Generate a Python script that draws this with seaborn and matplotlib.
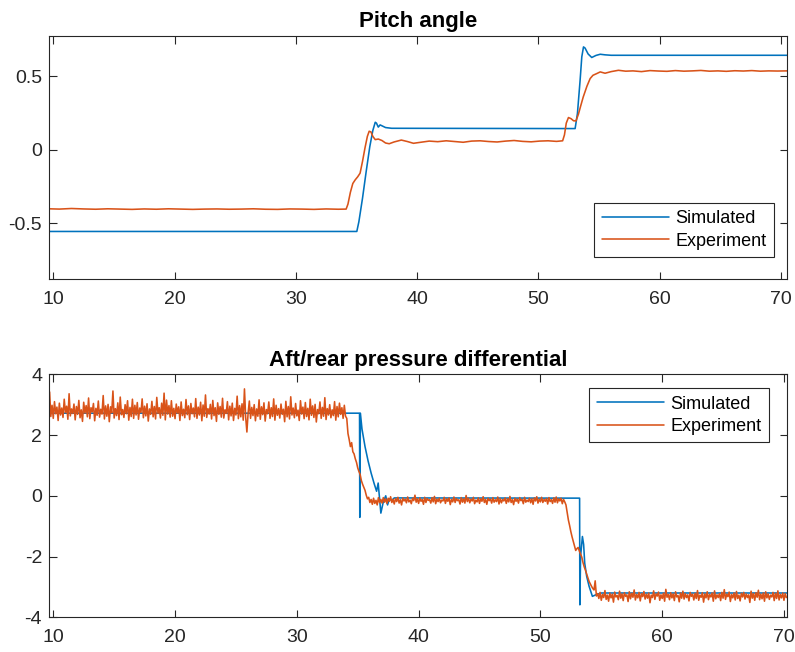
import numpy as np
import pandas as pd
import matplotlib
matplotlib.use("Agg")
import matplotlib.pyplot as plt
import seaborn as sns

# ---------------- pitch angle ----------------
pitch_sim_t = [9.65, 35.03, 35.2, 35.5, 35.8, 36.1, 36.35, 36.55, 36.65, 36.8, 36.95,
               37.1, 37.4, 37.9, 53.03, 53.22, 53.44, 53.58, 53.72, 53.85, 54.1, 54.4,
               54.75, 55.1, 55.5, 56.0, 70.5]
pitch_sim = [-0.556, -0.556, -0.49, -0.33, -0.15, 0.02, 0.13, 0.186, 0.18, 0.153, 0.168,
             0.162, 0.15, 0.145, 0.143, 0.245, 0.47, 0.63, 0.698, 0.69, 0.65, 0.626,
             0.64, 0.648, 0.644, 0.641, 0.641]

pitch_exp_t = [9.65, 10.5, 11.5, 12.5, 13.5, 14.5, 15.5, 16.5, 17.5, 18.5, 19.5, 20.5,
               21.5, 22.5, 23.5, 24.5, 25.5, 26.5, 27.5, 28.5, 29.5, 30.5, 31.5, 32.5,
               33.5, 34.15, 34.3, 34.5, 34.7, 34.9, 35.1, 35.3, 35.5, 35.7, 35.9, 36.05,
               36.2, 36.35, 36.55, 36.8, 37.1, 37.4, 37.7, 38.1, 38.7, 39.2, 39.7, 40.3,
               41.0, 41.7, 42.4, 43.1, 43.8, 44.5, 45.2, 45.9, 46.6, 47.3, 48.0, 48.7,
               49.4, 50.1, 50.8, 51.5, 52.0, 52.15, 52.3, 52.48, 52.7, 52.9, 53.1, 53.3,
               53.5, 53.7, 54.0, 54.27, 54.5, 54.82, 55.1, 55.5, 56.0, 56.6, 57.2, 57.8,
               58.5, 59.2, 59.9, 60.6, 61.3, 62.0, 62.7, 63.4, 64.1, 64.8, 65.5, 66.2,
               66.9, 67.6, 68.3, 69.0, 69.7, 70.5]
pitch_exp = [-0.402, -0.404, -0.400, -0.403, -0.405, -0.402, -0.404, -0.406, -0.403, -0.405,
             -0.402, -0.404, -0.406, -0.404, -0.403, -0.405, -0.404, -0.402, -0.405, -0.406,
             -0.403, -0.404, -0.406, -0.403, -0.405, -0.404, -0.37, -0.29, -0.23, -0.205,
             -0.185, -0.16, -0.08, 0.01, 0.09, 0.125, 0.12, 0.09, 0.068, 0.072, 0.062,
             0.045, 0.04, 0.052, 0.065, 0.055, 0.043, 0.05, 0.058, 0.054, 0.06, 0.055,
             0.05, 0.058, 0.06, 0.055, 0.052, 0.058, 0.062, 0.056, 0.053, 0.058, 0.06,
             0.056, 0.06, 0.1, 0.18, 0.218, 0.21, 0.196, 0.195, 0.24, 0.3, 0.358, 0.43,
             0.483, 0.505, 0.517, 0.528, 0.519, 0.53, 0.539, 0.533, 0.535, 0.53, 0.537,
             0.534, 0.532, 0.537, 0.533, 0.535, 0.538, 0.533, 0.535, 0.532, 0.536, 0.534,
             0.537, 0.533, 0.535, 0.534, 0.535]

# ---------------- aft/rear pressure differential ----------------
press_sim_t = [9.65, 35.15, 35.17, 35.22, 35.35, 35.6, 35.85, 36.1, 36.35, 36.55, 36.68,
               36.9, 37.1, 37.3, 37.45, 37.6, 37.8, 38.0, 53.22, 53.24, 53.3, 53.45,
               53.55, 53.64, 53.8, 54.0, 54.27, 54.6, 55.0, 70.25]
press_sim = [2.72, 2.72, -0.71, 2.72, 2.2, 1.62, 1.15, 0.75, 0.4, 0.15, 0.42,
             -0.57, -0.2, 0.0, -0.3, -0.1, -0.15, -0.07, -0.077, -3.59, -2.0, -1.34,
             -1.6, -2.22, -2.65, -2.98, -3.31, -3.25, -3.2, -3.2]

# experiment, sampled every 0.1 s starting at 9.7 s
press_exp_start = 9.7
press_exp_dt = 0.1
press_exp_high = [
    3.42, 2.61, 2.98, 2.55, 3.10, 2.70, 2.92, 2.48, 3.05, 2.66,
    2.89, 2.58, 3.18, 2.74, 2.95, 2.52, 3.36, 2.63, 2.86, 2.71,
    3.02, 2.50, 2.94, 2.68, 3.14, 2.57, 2.83, 2.45, 3.08, 2.72,
    2.97, 2.60, 3.22, 2.54, 2.90, 2.76, 3.04, 2.47, 2.88, 2.65,
    3.12, 2.59, 2.85, 2.69, 3.30, 2.53, 2.96, 2.62, 3.01, 2.44,
    2.93, 2.73, 3.45, 2.56, 2.87, 2.64, 3.06, 2.51, 3.25, 2.67,
    2.84, 2.58, 3.00, 2.70, 3.13, 2.49, 2.91, 2.61, 3.18, 2.55,
    2.98, 2.66, 3.07, 2.52, 2.89, 2.74, 3.19, 2.57, 2.95, 2.63,
    3.03, 2.46, 2.86, 2.68, 3.11, 2.60, 2.94, 2.53, 3.24, 2.71,
    2.90, 2.56, 3.05, 2.65, 3.38, 2.50, 3.15, 2.69, 2.97, 2.59,
    3.13, 2.62, 2.88, 2.54, 3.02, 2.72, 2.93, 2.48, 3.09, 2.64,
    2.85, 2.57, 3.17, 2.67, 2.96, 2.51, 3.04, 2.70, 2.89, 2.60,
    3.20, 2.55, 2.92, 2.66, 3.08, 2.47, 2.99, 2.62, 3.32, 2.58,
    2.87, 2.69, 3.01, 2.53, 3.14, 2.64, 2.90, 2.45, 3.06, 2.68,
    2.94, 2.59, 3.21, 2.56, 2.83, 2.71, 3.10, 2.50, 2.95, 2.63,
    3.05, 2.48, 2.88, 2.66, 3.28, 2.54, 2.97, 2.60, 3.03, 2.49,
    3.52, 2.58, 2.10, 2.73, 3.12, 2.55, 2.91, 2.64, 3.00, 2.47,
    2.86, 2.62, 3.16, 2.52, 2.93, 2.67, 3.06, 2.46, 2.84, 2.70,
    3.09, 2.55, 2.90, 2.61, 3.19, 2.49, 2.98, 2.65, 2.87, 2.56,
    3.02, 2.68, 2.85, 2.44, 3.11, 2.60, 2.94, 2.53, 3.26, 2.66,
    2.89, 2.57, 3.04, 2.63, 2.82, 2.48, 3.13, 2.69, 2.92, 2.54,
    3.07, 2.61, 2.88, 2.50, 3.18, 2.65, 2.96, 2.58, 3.01, 2.43,
    2.84, 2.70, 3.09, 2.55, 2.91, 2.62, 3.23, 2.51, 2.87, 2.66,
    3.00, 2.57, 2.83, 2.64, 3.10, 2.49, 2.94, 2.60, 3.05, 2.68,
    2.90, 2.55, 2.98, 2.62]
press_exp_drop1 = [
    2.55, 2.05, 1.85, 1.62, 1.75, 1.45, 1.38, 1.22, 1.10, 0.92,
    0.80, 0.70, 0.50, 0.38, 0.28, 0.18, 0.02, -0.10, -0.05, -0.22,
    -0.12, -0.28, -0.08, -0.25, -0.15, -0.30, -0.06, -0.22, -0.12, -0.24]
press_exp_mid = [
    -0.06, -0.21, -0.10, -0.25, -0.08, -0.18, -0.03, -0.22, -0.12, -0.27,
    -0.09, -0.19, -0.05, -0.24, -0.13, -0.30, -0.07, -0.17, -0.11, -0.23,
    -0.04, -0.20, -0.14, -0.26, -0.08, -0.16, 0.02, -0.21, -0.10, -0.25,
    -0.07, -0.18, -0.12, -0.28, -0.05, -0.22, -0.09, -0.15, -0.13, -0.24,
    -0.06, -0.20, -0.02, -0.26, -0.11, -0.19, -0.08, -0.23, -0.14, -0.17,
    -0.05, -0.25, -0.10, -0.18, -0.07, -0.29, -0.12, -0.20, -0.04, -0.22,
    -0.09, -0.16, -0.13, -0.27, -0.06, -0.21, -0.10, -0.24, 0.01, -0.19,
    -0.08, -0.23, -0.11, -0.17, -0.05, -0.26, -0.14, -0.20, -0.07, -0.25,
    -0.10, -0.18, -0.03, -0.22, -0.12, -0.28, -0.08, -0.16, -0.11, -0.24,
    -0.06, -0.21, -0.13, -0.19, -0.04, -0.27, -0.09, -0.23, -0.12, -0.17,
    -0.07, -0.25, -0.10, -0.20, -0.02, -0.22, -0.13, -0.29, -0.08, -0.18,
    -0.11, -0.24, -0.06, -0.16, -0.12, -0.26, -0.05, -0.21, -0.14, -0.19,
    -0.08, -0.23, -0.10, -0.28, -0.07, -0.17, -0.03, -0.24, -0.11, -0.20,
    -0.05, -0.22, -0.12, -0.18, -0.09, -0.27, -0.06, -0.19, -0.13, -0.25,
    -0.07, -0.21, -0.04, -0.23, -0.10, -0.17, -0.08, -0.26, -0.12, -0.20]
press_exp_drop2 = [
    -0.30, -0.55, -0.80, -0.98, -1.18, -1.35, -1.50, -1.66, -1.80, -1.74,
    -1.70, -1.82, -1.92, -2.02, -2.20, -2.34, -2.45, -2.58, -2.70, -2.82,
    -2.90, -2.98, -3.05, -3.10, -2.80, -3.30]
press_exp_low = [
    -3.22, -3.38, -3.18, -3.44, -3.25, -3.35, -3.12, -3.41, -3.27, -3.47,
    -3.20, -3.36, -3.24, -3.50, -3.17, -3.33, -3.28, -3.42, -3.14, -3.37,
    -3.23, -3.45, -3.19, -3.31, -3.26, -3.48, -3.16, -3.39, -3.21, -3.34,
    -3.10, -3.43, -3.25, -3.36, -3.18, -3.46, -3.22, -3.32, -3.15, -3.40,
    -3.24, -3.37, -3.20, -3.52, -3.27, -3.35, -3.13, -3.41, -3.23, -3.30,
    -3.17, -3.44, -3.26, -3.38, -3.21, -3.47, -3.08, -3.34, -3.25, -3.42,
    -3.19, -3.36, -3.23, -3.45, -3.16, -3.33, -3.28, -3.49, -3.20, -3.37,
    -3.14, -3.40, -3.22, -3.35, -3.26, -3.46, -3.18, -3.31, -3.24, -3.43,
    -3.21, -3.38, -3.12, -3.44, -3.27, -3.34, -3.19, -3.50, -3.23, -3.36,
    -3.16, -3.42, -3.25, -3.33, -3.20, -3.47, -3.13, -3.39, -3.26, -3.35,
    -3.22, -3.45, -3.18, -3.37, -3.09, -3.41, -3.24, -3.32, -3.17, -3.48,
    -3.25, -3.36, -3.20, -3.43, -3.15, -3.38, -3.27, -3.46, -3.21, -3.33,
    -3.18, -3.40, -3.23, -3.35, -3.26, -3.51, -3.14, -3.37, -3.22, -3.44,
    -3.19, -3.34, -3.11, -3.42, -3.24, -3.39, -3.20, -3.47, -3.16, -3.36,
    -3.23, -3.41, -3.27, -3.33, -3.18, -3.45, -3.21, -3.38, -3.13, -3.43,
    -3.25, -3.36, -3.20, -3.44, -3.22, -3.35]

series_names = ["Simulated", "Experiment"]
x_ticks = [10, 20, 30, 40, 50, 60, 70]
pitch_yticks = [-0.5, 0, 0.5]
pitch_yticklabels = ["-0.5", "0", "0.5"]
press_yticks = [-4, -2, 0, 2, 4]

# ---------------- style ----------------
sns.set_theme(style="white")
plt.rcParams["font.family"] = ["Liberation Sans", "DejaVu Sans"]
plt.rcParams["axes.unicode_minus"] = False

BLUE = "#0072BD"
ORANGE = "#D95319"
INK = "#262626"
palette = {"Simulated": BLUE, "Experiment": ORANGE}

press_exp = press_exp_high + press_exp_drop1 + press_exp_mid + press_exp_drop2 + press_exp_low
press_exp_t = np.round(press_exp_start + press_exp_dt * np.arange(len(press_exp)), 2)

pitch_df = pd.concat([
    pd.DataFrame({"t": pitch_sim_t, "value": pitch_sim, "series": series_names[0]}),
    pd.DataFrame({"t": pitch_exp_t, "value": pitch_exp, "series": series_names[1]}),
], ignore_index=True)
press_df = pd.concat([
    pd.DataFrame({"t": press_sim_t, "value": press_sim, "series": series_names[0]}),
    pd.DataFrame({"t": press_exp_t, "value": press_exp, "series": series_names[1]}),
], ignore_index=True)

W, H = 795, 652
fig = plt.figure(figsize=(W / 100, H / 100), dpi=100)
ax1 = fig.add_axes([49 / W, 1 - 279 / H, 738 / W, 243 / H])
ax2 = fig.add_axes([49 / W, 1 - 617.3 / H, 738 / W, 243 / H])

for ax, df in ((ax1, pitch_df), (ax2, press_df)):
    sns.lineplot(data=df, x="t", y="value", hue="series", hue_order=series_names,
                 palette=palette, estimator=None, sort=False, linewidth=1.15,
                 legend=False, ax=ax)
    ax.set_xlabel("")
    ax.set_ylabel("")
    ax.grid(False)
    ax.set_facecolor("white")
    for sp in ax.spines.values():
        sp.set_visible(True)
        sp.set_color(INK)
        sp.set_linewidth(0.8)
    ax.set_xticks(x_ticks)
    ax.tick_params(direction="in", length=5.4, width=0.8, color=INK,
                   labelcolor=INK, labelsize=14, top=True, right=True,
                   bottom=True, left=True)
    ax.tick_params(axis="x", pad=8.5)
    ax.tick_params(axis="y", pad=5)

ax1.set_xlim(9.65, 70.5)
ax1.set_ylim(-0.879, 0.772)
ax1.set_yticks(pitch_yticks, labels=pitch_yticklabels)
ax1.set_title("Pitch angle", fontsize=16, fontweight="bold", pad=6.5, color="black")

ax2.set_xlim(9.65, 70.25)
ax2.set_ylim(-4, 4)
ax2.set_yticks(press_yticks)
ax2.set_title("Aft/rear pressure differential", fontsize=16, fontweight="bold",
              pad=6.2, color="black")

legend_kw = dict(fontsize=13, frameon=True, fancybox=False, edgecolor=INK,
                 framealpha=1, facecolor="white", handlelength=3.75,
                 handletextpad=0.35, borderpad=0.4, labelspacing=0.3,
                 borderaxespad=0)
leg1 = ax1.legend(ax1.lines[:2], series_names, loc="lower right",
                  bbox_to_anchor=(0.9824, 0.0905), **legend_kw)
leg2 = ax2.legend(ax2.lines[:2], series_names, loc="upper right",
                  bbox_to_anchor=(0.9756, 0.9424), **legend_kw)
for leg in (leg1, leg2):
    leg.get_frame().set_linewidth(0.8)
    for txt in leg.get_texts():
        txt.set_color("black")

fig.savefig("out.png", dpi=100)
